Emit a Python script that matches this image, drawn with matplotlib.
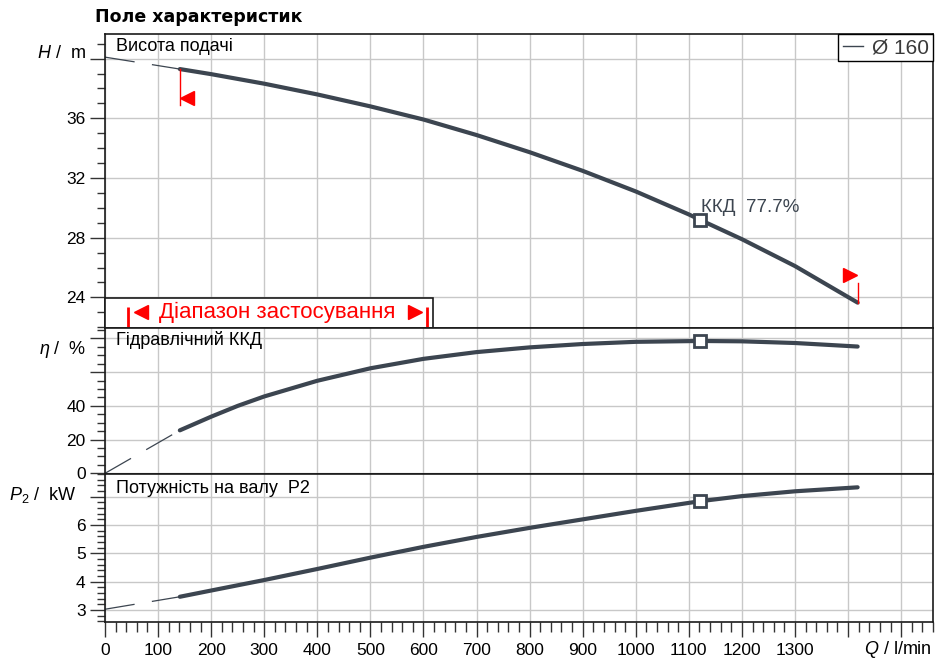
import matplotlib
matplotlib.use("Agg")
import matplotlib.pyplot as plt
from matplotlib.ticker import MultipleLocator, FuncFormatter
from matplotlib.lines import Line2D
from matplotlib.patches import Rectangle
from matplotlib.transforms import offset_copy

plt.rcParams['font.family'] = ['Liberation Sans', 'DejaVu Sans']
plt.rcParams['mathtext.fontset'] = 'custom'
plt.rcParams['mathtext.rm'] = 'Liberation Sans'
plt.rcParams['mathtext.it'] = 'Liberation Sans:italic'

# values (Q in l/min)
q_head = [141, 200, 300, 400, 500, 600, 700, 800, 900, 1000, 1100, 1121, 1200, 1300, 1418]
head = [39.3, 38.96, 38.32, 37.6, 36.8, 35.92, 34.88, 33.73, 32.48, 31.1, 29.56, 29.2, 27.9, 26.1, 23.65]
q_head_ext = [0, 141]
head_ext = [40.1, 39.3]

q_eff = [141, 200, 250, 300, 400, 500, 600, 700, 800, 900, 1000, 1121, 1200, 1300, 1418]
eff = [25.5, 33.6, 40.0, 45.6, 54.9, 62.3, 67.9, 71.9, 74.7, 76.7, 78.0, 78.5, 78.3, 77.3, 75.2]
q_eff_ext = [0, 141]
eff_ext = [0, 25.5]

q_pow = [141, 200, 300, 400, 500, 600, 700, 800, 900, 1000, 1121, 1200, 1300, 1418]
power = [3.47, 3.69, 4.06, 4.45, 4.85, 5.23, 5.58, 5.9, 6.2, 6.5, 6.84, 7.02, 7.19, 7.33]
q_pow_ext = [0, 141]
power_ext = [3.03, 3.47]

q_bep = 1121
bep_eff = 77.7
diameter = 160

curve_col = '#3c4550'
grid_col = '#c8c8c8'
spine_col = '#1a1a1a'
red = '#ff0000'

W, H = 953, 663
fig = plt.figure(figsize=(W / 100, H / 100), dpi=100)
left, right = 105 / W, 933 / W


def panel(top, bot, **kw):
    return fig.add_axes([left, 1 - bot / H, right - left, (bot - top) / H], **kw)


ax_h = panel(34, 328)
ax_e = panel(328, 474, sharex=ax_h)
ax_p = panel(474, 622, sharex=ax_h)


def hide_above(limit):
    return FuncFormatter(lambda v, pos: '' if v > limit + 1e-6 else f'{v:g}')


setup = [
    (ax_h, (21.95, 41.65), 4, 1, 36),
    (ax_e, (-0.4, 86.2), 20, 5, 40),
    (ax_p, (2.58, 7.8), 1, 0.2, 6),
]
for ax, ylim, major, minor, last_label in setup:
    ax.set_ylim(*ylim)
    ax.yaxis.set_major_locator(MultipleLocator(major))
    ax.yaxis.set_minor_locator(MultipleLocator(minor))
    ax.yaxis.set_major_formatter(hide_above(last_label))
    ax.grid(True, which='major', color=grid_col, lw=1)
    ax.set_axisbelow(True)
    ax.tick_params(axis='y', which='major', length=11, width=1, color='#333333',
                   labelsize=12.5, pad=3)
    ax.tick_params(axis='y', which='minor', length=6, width=1, color='#333333')
    for s in ax.spines.values():
        s.set_color(spine_col)
        s.set_linewidth(1.2)

ax_h.set_xlim(0, 1560)
ax_h.xaxis.set_major_locator(MultipleLocator(100))
ax_h.xaxis.set_minor_locator(MultipleLocator(20))
ax_p.xaxis.set_major_formatter(hide_above(1300))
for ax in (ax_h, ax_e):
    ax.tick_params(axis='x', which='both', length=0, labelbottom=False)
ax_p.tick_params(axis='x', which='major', length=11, width=1, color='#333333',
                 labelsize=12.5, pad=4)
ax_p.tick_params(axis='x', which='minor', length=7, width=1, color='#333333')

# curves
dash = dict(color=curve_col, lw=0.9, dashes=(24, 14))
thick = dict(color=curve_col, lw=3.0, solid_capstyle='round', solid_joinstyle='round')
bep = dict(marker='s', ms=8, mfc='white', mec=curve_col, mew=2, zorder=5)

ax_h.plot(q_head_ext, head_ext, **dash)
ax_h.plot(q_head, head, **thick)
ax_e.plot(q_eff_ext, eff_ext, **dash)
ax_e.plot(q_eff, eff, **thick)
ax_p.plot(q_pow_ext, power_ext, **dash)
ax_p.plot(q_pow, power, **thick)

i_h = q_head.index(q_bep)
i_e = q_eff.index(q_bep)
i_p = q_pow.index(q_bep)
ax_h.plot(q_head[i_h], head[i_h], **bep)
ax_e.plot(q_eff[i_e], eff[i_e], **bep)
ax_p.plot(q_pow[i_p], power[i_p], **bep)
ax_h.annotate(f'ККД  {bep_eff}%', (q_head[i_h], head[i_h]), xytext=(1, 9),
              textcoords='offset points', ha='left', va='center',
              fontsize=13.5, color=curve_col)


# operating range flags on the head curve
def vline_px(ax, x, y, dy):
    p0 = ax.transData.transform((x, y))
    p1 = ax.transData.inverted().transform((p0[0], p0[1] + dy))
    ax.plot([x, p1[0]], [y, p1[1]], color=red, lw=1, zorder=4)


vline_px(ax_h, q_head[0], head[0], -36)
ax_h.plot(q_head[0], head[0], marker='<', ms=10, color=red, zorder=4,
          transform=offset_copy(ax_h.transData, fig=fig, x=7.5, y=-29, units='dots'))
vline_px(ax_h, q_head[-1], head[-1], 20)
ax_h.plot(q_head[-1], head[-1], marker='>', ms=10, color=red, zorder=4,
          transform=offset_copy(ax_h.transData, fig=fig, x=-7.5, y=27.5, units='dots'))

# "application range" box
ax_h.add_patch(Rectangle((0, 0), 0.396, 0.102, transform=ax_h.transAxes,
                         fc='white', ec=spine_col, lw=1.2, zorder=6, clip_on=False))
ax_h.text(0.2083, 0.054, 'Діапазон застосування', transform=ax_h.transAxes,
          ha='center', va='center', fontsize=16, color=red, zorder=7)
for xf in (0.0281, 0.3883):
    ax_h.plot([xf, xf], [0.004, 0.071], transform=ax_h.transAxes, color=red, lw=2,
              zorder=7, solid_capstyle='butt')
ax_h.plot(0.0429, 0.054, marker='<', ms=10, color=red, transform=ax_h.transAxes, zorder=7)
ax_h.plot(0.3738, 0.054, marker='>', ms=10, color=red, transform=ax_h.transAxes, zorder=7)

# legend
leg = ax_h.legend(handles=[Line2D([], [], color=curve_col, lw=1)], labels=[f'Ø {diameter}'],
                  loc='upper right', borderaxespad=0, fontsize=15, fancybox=False,
                  edgecolor='black', framealpha=1, handlelength=1.0, handletextpad=0.4,
                  borderpad=0.2)
leg.get_frame().set_linewidth(1.0)
for t in leg.get_texts():
    t.set_color('#3a3a3a')

# panel titles and axis labels
ax_h.text(0.0133, 0.959, 'Висота подачі', transform=ax_h.transAxes, va='center', fontsize=13)
ax_e.text(0.0133, 0.918, 'Гідравлічний ККД', transform=ax_e.transAxes, va='center', fontsize=13)
ax_p.text(0.0133, 0.905, 'Потужність на валу  P2', transform=ax_p.transAxes, va='center',
          fontsize=13)

ax_h.text(-0.023, 0.932, '$H$ /  m', transform=ax_h.transAxes, ha='right', va='center',
          fontsize=13)
ax_e.text(-0.023, 0.856, r'$\eta$ /  %', transform=ax_e.transAxes, ha='right', va='center',
          fontsize=13)
ax_p.text(-0.034, 0.858, '$P_2$ /  kW', transform=ax_p.transAxes, ha='right', va='center',
          fontsize=13)
fig.text(932 / W, 1 - 650 / H, '$Q$ / l/min', ha='right', va='center', fontsize=13)

fig.text(95 / W, 1 - 17 / H, 'Поле характеристик', ha='left', va='center', fontsize=12.5,
         fontweight='bold', family='DejaVu Sans')

fig.savefig('out.png', dpi=100)
